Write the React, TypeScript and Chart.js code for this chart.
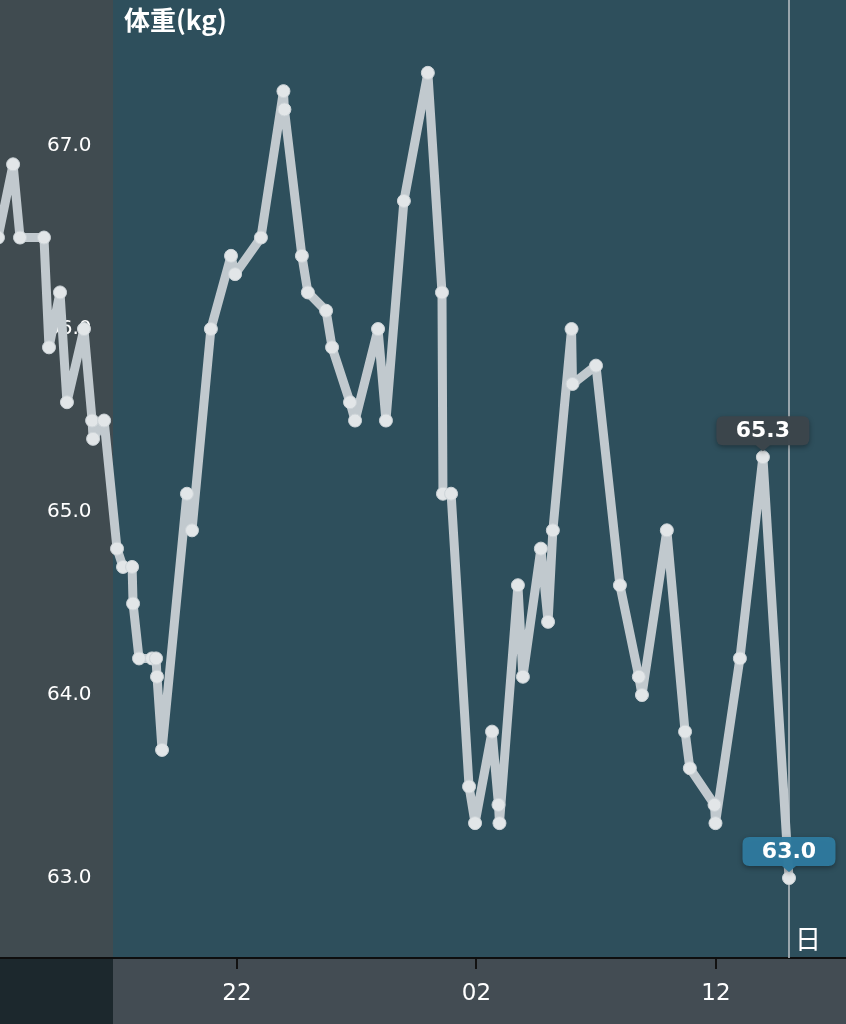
import React, { useEffect, useRef } from 'react';
import { Chart, registerables } from 'chart.js';

Chart.register(...registerables);

// Day offsets (0 = the "22" tick, 10 = "02", 20 = "12")
const days = [
  -9.98, -9.35, -9.06, -8.06, -7.85, -7.39, -7.1, -6.39, -6.05, -6.01,
  -5.55, -5.01, -4.76, -4.38, -4.34, -4.09, -3.55, -3.38, -3.34, -3.13,
  -2.09, -1.88, -1.09, -0.25, -0.08, 1.0, 1.94, 1.98, 2.71, 2.96,
  3.72, 3.97, 4.72, 4.93, 5.89, 6.22, 6.97, 7.97, 8.56, 8.6,
  8.94, 9.69, 9.94, 10.65, 10.92, 10.96, 11.73, 11.94, 12.69, 12.99,
  13.19, 13.97, 14.01, 14.99, 15.99, 16.78, 16.91, 17.95, 18.71, 18.91,
  19.94, 19.98, 21.0, 21.96, 23.05,
];
const weights = [
  66.5, 66.9, 66.5, 66.5, 65.9, 66.2, 65.6, 66.0, 65.5, 65.4,
  65.5, 64.8, 64.7, 64.7, 64.5, 64.2, 64.2, 64.2, 64.1, 63.7,
  65.1, 64.9, 66.0, 66.4, 66.3, 66.5, 67.3, 67.2, 66.4, 66.2,
  66.1, 65.9, 65.6, 65.5, 66.0, 65.5, 66.7, 67.4, 66.2, 65.1,
  65.1, 63.5, 63.3, 63.8, 63.4, 63.3, 64.6, 64.1, 64.8, 64.4,
  64.9, 66.0, 65.7, 65.8, 64.6, 64.1, 64.0, 64.9, 63.8, 63.6,
  63.4, 63.3, 64.2, 65.3, 63.0,
];
const xTickDays = [0, 10, 20];
const xTickLabels = ['22', '02', '12'];
const yTickValues = [63, 64, 65, 66, 67];
const xRange = [-9.896, 25.43];
const yRange = [62.563, 67.798];
const chartTitle = '体重(kg)';
const unitLabel = '日';
const calloutIndices = [63, 64];
const calloutColors = ['rgba(60,70,76,0.96)', 'rgba(46,122,158,0.97)'];
const selectedIndex = 64;

const decorPlugin = {
  id: 'decor',
  beforeDraw(chart: any) {
    const { ctx, chartArea: a, width, height } = chart;
    const stripRight = 113;
    ctx.save();
    ctx.fillStyle = 'rgb(46,79,92)';
    ctx.fillRect(a.left, a.top, a.right - a.left, a.bottom - a.top);
    ctx.fillStyle = 'rgb(64,75,80)';
    ctx.fillRect(0, a.top, stripRight, a.bottom - a.top);
    ctx.fillStyle = 'rgb(67,76,83)';
    ctx.fillRect(0, a.bottom, width, height - a.bottom);
    ctx.fillStyle = 'rgb(28,40,45)';
    ctx.fillRect(0, a.bottom, stripRight, height - a.bottom);
    ctx.restore();
  },
  beforeDatasetsDraw(chart: any) {
    const { ctx, chartArea: a } = chart;
    const xs = chart.scales.x;
    const px = Math.round(xs.getPixelForValue(days[selectedIndex]));
    ctx.save();
    ctx.strokeStyle = 'rgba(170,180,186,0.85)';
    ctx.lineWidth = 2;
    ctx.beginPath();
    ctx.moveTo(px, a.top);
    ctx.lineTo(px, a.bottom);
    ctx.stroke();
    ctx.restore();
  },
  afterDraw(chart: any) {
    const { ctx, chartArea: a } = chart;
    const xs = chart.scales.x;
    const ys = chart.scales.y;
    ctx.save();
    // title
    ctx.fillStyle = '#ffffff';
    ctx.textAlign = 'left';
    ctx.textBaseline = 'middle';
    ctx.font = 'bold 26px "Noto Sans CJK JP", "DejaVu Sans", sans-serif';
    ctx.fillText(chartTitle, 124, 20);
    // unit label
    ctx.font = '26px "Noto Sans CJK JP", sans-serif';
    ctx.textAlign = 'center';
    ctx.fillText(unitLabel, 808, a.bottom - 19);
    // callouts
    calloutIndices.forEach((idx, k) => {
      const x = xs.getPixelForValue(days[idx]);
      const py = ys.getPixelForValue(weights[idx]);
      const w = 93;
      const h = 29;
      const r = 7;
      const bx = x - w / 2;
      const by = py - 41;
      ctx.save();
      ctx.shadowColor = 'rgba(0,0,0,0.35)';
      ctx.shadowBlur = 5;
      ctx.shadowOffsetY = 2;
      ctx.fillStyle = calloutColors[k];
      ctx.beginPath();
      ctx.moveTo(bx + r, by);
      ctx.lineTo(bx + w - r, by);
      ctx.quadraticCurveTo(bx + w, by, bx + w, by + r);
      ctx.lineTo(bx + w, by + h - r);
      ctx.quadraticCurveTo(bx + w, by + h, bx + w - r, by + h);
      ctx.lineTo(x + 7, by + h);
      ctx.lineTo(x, by + h + 6);
      ctx.lineTo(x - 7, by + h);
      ctx.lineTo(bx + r, by + h);
      ctx.quadraticCurveTo(bx, by + h, bx, by + h - r);
      ctx.lineTo(bx, by + r);
      ctx.quadraticCurveTo(bx, by, bx + r, by);
      ctx.closePath();
      ctx.fill();
      ctx.restore();
      ctx.fillStyle = '#ffffff';
      ctx.font = 'bold 22px "DejaVu Sans", sans-serif';
      ctx.textAlign = 'center';
      ctx.textBaseline = 'middle';
      ctx.fillText(weights[idx].toFixed(1), x, by + h / 2 + 1);
    });
    ctx.restore();
  },
};

export default function App() {
  const ref = useRef<HTMLCanvasElement | null>(null);
  useEffect(() => {
    if (!ref.current) return;
    const chart = new Chart(ref.current, {
      type: 'line',
      data: {
        datasets: [
          {
            data: days.map((d, i) => ({ x: d, y: weights[i] })),
            borderColor: 'rgb(193,201,206)',
            borderWidth: 9,
            borderJoinStyle: 'round',
            borderCapStyle: 'round',
            pointRadius: 6.5,
            pointBackgroundColor: 'rgb(226,230,232)',
            pointBorderColor: 'rgb(205,212,216)',
            pointBorderWidth: 1,
            tension: 0,
          },
        ],
      },
      options: {
        animation: false,
        responsive: false,
        layout: { padding: 0, autoPadding: false },
        plugins: {
          legend: { display: false },
          title: { display: false },
          tooltip: { enabled: false },
        },
        scales: {
          x: {
            type: 'linear',
            position: 'bottom',
            min: xRange[0],
            max: xRange[1],
            afterBuildTicks: (s: any) => {
              s.ticks = xTickDays.map((v) => ({ value: v }));
            },
            afterFit: (s: any) => {
              s.height = 66;
              s.paddingLeft = 0;
              s.paddingRight = 0;
            },
            grid: {
              display: true,
              drawOnChartArea: false,
              drawTicks: true,
              tickLength: 11,
              color: '#121212',
              lineWidth: 2,
            },
            border: { display: true, color: '#0e0e0e', width: 2 },
            ticks: {
              color: '#ffffff',
              font: { family: '"DejaVu Sans", sans-serif', size: 23 },
              padding: 11,
              maxRotation: 0,
              autoSkip: false,
              callback: (v: any) => xTickLabels[xTickDays.indexOf(Number(v))] ?? '',
            },
          },
          y: {
            type: 'linear',
            position: 'left',
            z: 1,
            min: yRange[0],
            max: yRange[1],
            afterBuildTicks: (s: any) => {
              s.ticks = yTickValues.map((v) => ({ value: v }));
            },
            afterFit: (s: any) => {
              s.width = 0;
              s.paddingTop = 0;
              s.paddingBottom = 0;
            },
            grid: { display: false, drawTicks: false },
            border: { display: false },
            ticks: {
              mirror: true,
              crossAlign: 'near',
              padding: 47,
              color: '#ffffff',
              font: { family: '"DejaVu Sans", sans-serif', size: 20 },
              callback: (v: any) => Number(v).toFixed(1),
            },
          },
        },
      } as any,
      plugins: [decorPlugin],
    });
    return () => chart.destroy();
  }, []);
  return (
    <div style={{ position: 'fixed', left: 0, top: 0, width: 846, height: 1024 }}>
      <canvas ref={ref} width={846} height={1024} style={{ display: 'block' }} />
    </div>
  );
}
